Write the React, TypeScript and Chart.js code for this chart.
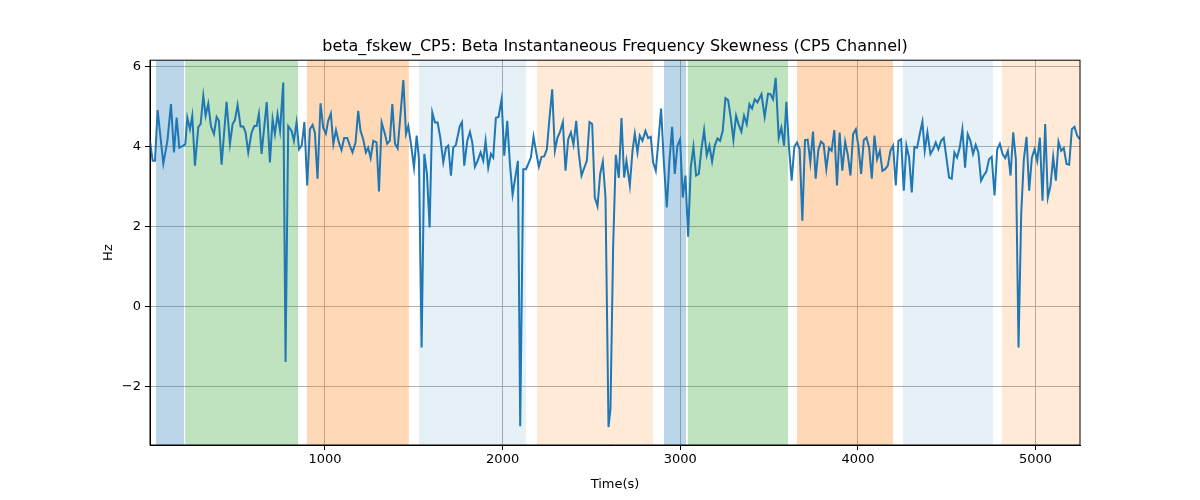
import React, { useRef, useEffect } from "react";
import { Chart, registerables } from "chart.js";

Chart.register(...registerables);

const times = [
  15, 30, 43, 58, 90, 113, 133, 150, 165, 180, 203, 214, 225, 240, 253, 268, 287, 300, 315, 328, 343, 358, 375, 390, 403, 418, 446, 465, 480, 493, 508, 525, 540, 553, 568, 587, 602, 615, 628, 643, 672, 690, 705, 718, 733, 747, 765, 778, 793, 812, 825, 840, 854, 869, 884, 900, 915,
  930, 943, 958, 975, 990, 1005, 1018, 1033, 1047, 1062, 1078, 1093, 1108, 1125, 1140, 1155, 1172, 1187, 1200, 1215, 1230, 1243, 1257, 1272, 1290, 1304, 1319, 1337, 1350, 1365, 1379, 1394, 1409, 1422, 1441, 1456, 1469, 1484, 1501, 1516, 1529, 1544, 1559, 1574, 1589, 1604, 1619, 1634, 1649, 1666, 1681, 1694, 1709, 1722, 1737, 1759,
  1771, 1784, 1801, 1816, 1829, 1844, 1859, 1876, 1891, 1904, 1919, 1934, 1947, 1962, 1977, 1994, 2009, 2026, 2041, 2056, 2071, 2086, 2099, 2116, 2131, 2144, 2159, 2174, 2189, 2204, 2219, 2234, 2249, 2264, 2279, 2294, 2309, 2322, 2339, 2354, 2369, 2384, 2399, 2414, 2429, 2444, 2459, 2474, 2489, 2504, 2519, 2534, 2549, 2564, 2579, 2596,
  2607, 2622, 2637, 2654, 2669, 2684, 2697, 2716, 2731, 2744, 2759, 2772, 2787, 2804, 2819, 2834, 2847, 2862, 2877, 2892, 2907, 2924, 2939, 2954, 2969, 2984, 2999, 3014, 3029, 3044, 3059, 3074, 3089, 3104, 3119, 3134, 3149, 3164, 3179, 3194, 3209, 3224, 3239, 3254, 3269, 3284, 3299, 3314, 3329, 3344, 3359, 3374, 3389, 3404, 3419, 3434, 3447,
  3457, 3475, 3494, 3507, 3522, 3537, 3554, 3569, 3584, 3597, 3612, 3627, 3642, 3657, 3672, 3687, 3702, 3717, 3732, 3747, 3762, 3777, 3792, 3807, 3822, 3837, 3852, 3867, 3882, 3897, 3912, 3928, 3943, 3958, 3973, 3988, 4003, 4018, 4033, 4048, 4063, 4078, 4093, 4108, 4123, 4138, 4153, 4168, 4183, 4198, 4213, 4228, 4243, 4258, 4273, 4288, 4303, 4318, 4333, 4348,
  4363, 4376, 4391, 4408, 4423, 4438, 4453, 4468, 4483, 4498, 4513, 4528, 4543, 4558, 4573, 4588, 4603, 4618, 4633, 4648, 4663, 4678, 4693, 4708, 4723, 4738, 4753, 4769, 4784, 4799, 4814, 4829, 4844, 4859, 4874, 4889, 4904, 4919, 4934, 4949, 4964, 4979, 4994, 5009, 5024, 5039, 5054, 5069, 5084, 5099, 5114, 5129, 5144, 5159, 5174, 5189, 5204, 5219, 5234, 5249,
];

const values = [
  4.15, 3.65, 3.65, 4.92, 3.58, 4.15, 5.07, 3.86, 4.73, 3.98, 4.03, 4.07, 4.73, 4.44, 4.78, 3.53, 4.5, 4.57, 5.28, 4.78, 5.08, 4.52, 4.32, 4.75, 4.65, 3.55, 5.13, 4.07, 4.57, 4.67, 5.05, 4.51, 4.51, 4.36, 3.86, 4.36, 4.52, 4.52, 4.83, 3.82, 5.12, 3.61, 4.69, 4.32, 4.82, 4.4, 5.61, -1.39, 4.52, 4.4, 4.15, 4.61, 3.94, 4.03, 4.62, 3.03, 4.44,
  4.55, 4.36, 3.2, 5.09, 4.48, 4.33, 4.65, 4.83, 4.07, 4.42, 4.11, 3.92, 4.22, 4.22, 4.03, 3.86, 4.11, 4.9, 4.4, 4.19, 3.86, 3.98, 3.72, 4.15, 4.11, 2.88, 4.61, 4.33, 4.08, 4.15, 5.07, 4.08, 3.96, 4.65, 5.67, 4.32, 4.52, 4.07, 3.48, 4.28, 3.69, -1.03, 3.82, 3.32, 1.98, 4.86, 4.61, 4.61, 4.23, 3.61, 3.98, 4.03, 3.28, 3.98, 4.05, 4.52,
  4.62, 3.53, 4.15, 4.37, 4.11, 3.5, 3.65, 3.86, 3.65, 4.15, 3.48, 3.82, 3.73, 4.73, 4.75, 5.19, 3.78, 4.65, 3.57, 2.8, 3.23, 3.65, -3.0, 3.44, 3.44, 3.57, 3.73, 4.25, 3.86, 3.5, 3.75, 3.76, 3.94, 4.73, 5.44, 3.9, 4.23, 4.36, 4.62, 3.4, 4.19, 4.36, 4.05, 4.65, 3.82, 3.28, 3.47, 3.65, 4.62, 4.57, 2.73, 2.51, 3.32, 3.63, 2.73, -3.02,
  -2.56, 1.48, 3.8, 3.22, 4.72, 3.23, 3.65, 3.03, 3.9, 4.33, 3.86, 4.28, 4.15, 4.4, 4.22, 4.25, 3.61, 3.4, 4.15, 4.96, 3.65, 2.48, 3.65, 4.5, 3.32, 4.03, 4.19, 2.73, 3.28, 1.75, 3.48, 4.0, 3.28, 3.32, 3.94, 4.42, 3.79, 4.03, 3.63, 4.03, 4.21, 4.15, 4.4, 5.22, 5.17, 4.73, 4.17, 4.78, 4.55, 4.38, 4.78, 4.57, 5.07, 4.96, 5.19, 5.11, 5.23,
  5.32, 4.75, 5.33, 5.32, 5.19, 5.73, 4.22, 4.48, 4.03, 5.13, 3.98, 3.15, 4.0, 4.11, 3.94, 2.15, 4.17, 4.18, 3.61, 4.38, 3.2, 3.92, 4.13, 4.07, 3.44, 3.97, 3.9, 4.42, 3.03, 4.36, 3.4, 4.13, 3.8, 3.28, 4.32, 4.44, 4.0, 3.32, 4.17, 4.23, 3.98, 3.2, 4.28, 3.69, 3.9, 3.4, 3.44, 3.53, 3.9, 4.03, 3.03, 4.15, 4.19, 2.9, 4.03, 3.73, 2.86, 4.0, 3.98, 4.32,
  4.63, 3.9, 4.36, 3.82, 3.94, 4.11, 3.94, 4.15, 4.22, 3.73, 3.23, 3.2, 3.86, 3.73, 3.98, 4.44, 3.48, 4.32, 4.15, 3.82, 4.05, 3.86, 3.15, 3.28, 3.38, 3.69, 3.75, 2.78, 3.94, 4.08, 3.82, 3.72, 3.9, 3.28, 4.36, 3.69, -1.03, 2.32, 3.69, 4.25, 2.9, 3.73, 3.94, 3.65, 4.23, 2.65, 4.57, 2.73, 3.03, 3.75, 3.15, 4.13, 3.9, 3.97, 3.57, 3.55, 4.44, 4.5, 4.28, 4.19,
];

const xTicks = [1000, 2000, 3000, 4000, 5000];
const yTicks = [-2, 0, 2, 4, 6];

// shaded segments: start, end, colour
const spanStarts = [49, 213, 898, 1529, 2193, 2908, 3043, 3657, 4253, 4810];
const spanEnds = [207, 848, 1472, 2131, 2846, 3032, 3606, 4197, 4760, 5260];
const spanColors = [
  "rgba(31,119,180,0.3)", "rgba(44,160,44,0.3)", "rgba(255,127,14,0.3)", "rgba(31,119,180,0.11)", "rgba(255,127,14,0.16)",
  "rgba(31,119,180,0.3)", "rgba(44,160,44,0.3)", "rgba(255,127,14,0.3)", "rgba(31,119,180,0.11)", "rgba(255,127,14,0.16)",
];

const spansPlugin = {
  id: "spans",
  beforeDatasetsDraw(chart: any) {
    const { ctx, chartArea, scales } = chart;
    ctx.save();
    ctx.beginPath();
    ctx.rect(chartArea.left, chartArea.top, chartArea.width, chartArea.height);
    ctx.clip();
    spanStarts.forEach((s, i) => {
      const x0 = scales.x.getPixelForValue(s);
      const x1 = scales.x.getPixelForValue(spanEnds[i]);
      ctx.fillStyle = spanColors[i];
      ctx.fillRect(x0, chartArea.top, x1 - x0, chartArea.height);
    });
    ctx.restore();
  },
  afterDraw(chart: any) {
    const { ctx, chartArea } = chart;
    ctx.save();
    ctx.strokeStyle = "#000";
    ctx.lineWidth = 1;
    ctx.strokeRect(chartArea.left, chartArea.top, chartArea.width, chartArea.height);
    ctx.restore();
  },
};

const App = () => {
  const chartRef = useRef<HTMLCanvasElement>(null);

  useEffect(() => {
    document.body.style.margin = "0";
    const ctx = chartRef.current?.getContext("2d");
    if (!ctx) return;

    const font = { family: "DejaVu Sans", size: 13 };

    const myChart = new Chart(ctx, {
      type: "line",
      data: {
        datasets: [
          {
            data: times.map((t, i) => ({ x: t, y: values[i] })),
            borderColor: "#1f77b4",
            borderWidth: 2,
            pointRadius: 0,
            tension: 0,
          },
        ],
      },
      options: {
        animation: false,
        responsive: false,
        layout: { padding: { left: 101, right: 120, top: 0, bottom: 8 } },
        plugins: {
          legend: { display: false },
          tooltip: { enabled: false },
          title: {
            display: true,
            text: "beta_fskew_CP5: Beta Instantaneous Frequency Skewness (CP5 Channel)",
            color: "#000",
            font: { family: "DejaVu Sans", size: 16, weight: "normal" },
            padding: { top: 37, bottom: 4 },
            fullSize: false,
          },
        },
        scales: {
          x: {
            type: "linear",
            min: 15,
            max: 5250,
            afterBuildTicks: (scale: any) => {
              scale.ticks = xTicks.map((v) => ({ value: v }));
            },
            grid: { color: "#b0b0b0", tickColor: "#000", tickLength: 5 },
            border: { color: "#000" },
            ticks: { color: "#000", font, maxRotation: 0, padding: 2, callback: (v: any) => String(v) },
            title: { display: true, text: "Time(s)", color: "#000", font, padding: { top: 2, bottom: 0 } },
            afterFit: (scale: any) => { scale.height = 47; },
          },
          y: {
            min: -3.47,
            max: 6.17,
            afterBuildTicks: (scale: any) => {
              scale.ticks = yTicks.map((v) => ({ value: v }));
            },
            grid: { color: "#b0b0b0", tickColor: "#000", tickLength: 5 },
            border: { color: "#000" },
            ticks: {
              color: "#000",
              font,
              padding: 4,
              callback: (v: any) => (Number(v) < 0 ? "\u2212" + Math.abs(Number(v)) : String(v)),
            },
            title: { display: true, text: "Hz", color: "#000", font, padding: 0 },
            afterFit: (scale: any) => { scale.width = 49; },
          },
        },
      },
      plugins: [spansPlugin],
    });

    return () => {
      myChart.destroy();
    };
  }, []);

  return (
    <div style={{ width: 1200, height: 500 }}>
      <canvas ref={chartRef} width={1200} height={500}></canvas>
    </div>
  );
};

export default App;
